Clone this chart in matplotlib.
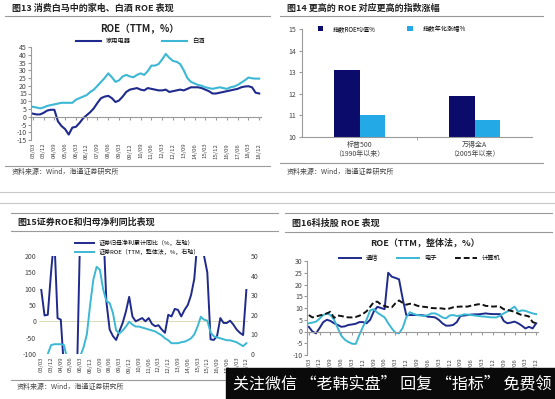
import numpy as np
import matplotlib
matplotlib.use('Agg')
import matplotlib.pyplot as plt
from matplotlib.lines import Line2D
from matplotlib.patches import Rectangle

plt.rcParams['font.family'] = ['Noto Sans CJK SC', 'DejaVu Sans']
plt.rcParams['axes.unicode_minus'] = False

W, H = 555, 399
DARK = '#1f2a8c'
LIGHT = '#3cb8d4'
BAR_DARK = '#0b0b6b'
BAR_LIGHT = '#22a9e6'
GRAY = '#9a9a9a'
TXT = '#444444'

# quarterly axis labels, every 3rd quarter (03/03 .. 18/12)
quarter_labels = ['03/03', '03/12', '04/09', '05/06', '06/03', '06/12', '07/09', '08/06',
                  '09/03', '09/12', '10/09', '11/06', '12/03', '12/12', '13/09', '14/06',
                  '15/03', '15/12', '16/09', '17/06', '18/03', '18/12']

# fig 13: ROE (TTM, %)
appliance_roe = [2, 1.5, 1.5, 2.5, 4, 4.5, 4.5, -3, -6, -8, -11.5, -7, -6.5, -4, -1, 1,
                 3, 5.5, 9, 12, 13, 13.5, 12, 9.5, 10.5, 13, 16, 17.5, 18, 18.5, 17.5, 17,
                 18.5, 18, 17.5, 17, 17, 17.5, 16, 16.5, 17, 17.5, 17, 18, 19, 19, 19, 18.5,
                 17.5, 16.5, 15, 15, 15.5, 16, 16.5, 17, 17.5, 18, 19, 19.5, 19.7, 19, 15.5, 15]
baijiu_roe = [6.4, 6, 5.4, 6, 7, 7.5, 8, 8.5, 9, 9, 9, 9, 11, 12, 13, 14,
              16, 17.5, 20, 22.5, 25, 28, 25.5, 22.5, 23.5, 26, 27, 26, 25.5, 27, 28, 27,
              29.5, 33, 33, 34, 37, 40.5, 38, 36, 35.5, 34, 30, 25, 22.5, 21.5, 20.5, 20,
              19, 18.5, 18, 18.5, 19, 18.5, 18, 19, 19.5, 20.5, 22, 23.5, 25.3, 24.8, 24.6, 24.6]

# fig 14
index_names = ['标普500\n（1990年以来）', '万得全A\n（2005年以来）']
index_roe_mean = [13.1, 11.9]
index_annual_return = [11.0, 10.8]

# fig 15
broker_profit_yoy = [96, 18, 20, 150, 260, 10, 5, -150, -150, -150, -150, -150, 300, 300, 300, 300,
                     300, 300, 300, 300, 60, -25, -45, -57, -30, -5, 30, 75, 15, 0, 5, 10,
                     0, 10, -8, -15, -12, -25, -35, 20, 15, 38, 35, 15, 35, 50, 80, 130,
                     250, 250, 200, 150, -55, -57, -45, 10, -5, -5, 2, -10, -25, -35, -42, 96]
broker_roe = [np.nan, np.nan, 0, 4.5, 5, 5, 5, 4.5, -3, np.nan, np.nan, np.nan, -1, 3.5, 10, 25,
              38, 44.5, 43, 33, 27, 26, 21, 12, 10.5, 12, 14, 16.5, 15, 14, 14, 13.5,
              13, 12.5, 12, 11.5, 10.5, 9.5, 8, 7, 5.5, 5.5, 5.5, 6, 6.3, 7, 8, 10,
              14, 19, 17.5, 17, 11, 9, 8.5, 8, 7.5, 7, 7, 6.5, 6, 5, 4, 5.5]

# fig 16
telecom_roe = [2, 0, -0.8, 1.5, 4, 5, 4.5, 3.5, 2.8, 2, 2.2, 2.8, 3, 3.3, 4, 4,
               3.5, 5, 8.5, 10.5, 10, 9.5, 25, 23.3, 22.8, 22.2, 14, 7, 7, 7, 7, 7,
               6.8, 6.3, 6.2, 6, 5, 3.5, 2.5, 2.5, 2.8, 4, 6.6, 6.8, 7, 7.2, 7.3, 7.3,
               7.5, 7.7, 7.5, 7.4, 7.4, 7.4, 4.5, 3.5, 3.8, 4.2, 3.5, 2.5, 1.3, 2, 1.3, 3.5]
electronics_roe = [3.5, 3.8, 4.2, 5.5, 7, 7.7, 7, 5, 1.5, -1.8, -3.5, -4.5, -5.2, -5.3, -1.5, 2,
                   5, 9, 9.5, 8, 7, 6, 3.5, 1.3, -0.5, -0.8, 1.5, 6, 8.2, 7.5, 7, 6.8,
                   6.6, 7, 7.7, 7.7, 7, 6, 5.6, 6.8, 7, 6.6, 6.8, 7.3, 7.2, 7, 6.8, 6.6,
                   6.4, 6.3, 6.1, 6, 6, 6.8, 7.7, 8.5, 9.5, 10.6, 8.4, 9, 8.8, 8.2, 7.7, 7.4]
computer_roe = [7, 6, 6.4, 6.8, 7.2, 7.7, 8.4, 5.8, 6.8, 6.6, 6.2, 6, 6, 6.2, 6.7, 7.5,
                8.6, 10.5, 12.5, 12.7, 11.5, 10.8, 10.4, 10.3, 12, 13.2, 12.2, 11.4, 11.8, 11.6, 11, 10.6,
                10.5, 10.3, 10, 9.9, 9.9, 9.8, 9.5, 9.8, 10.3, 10.5, 10.6, 10.6, 10.6, 11, 11.3, 11.6,
                11.5, 10.9, 10.8, 10.6, 10.7, 10.5, 9.5, 9.2, 8.8, 8.4, 7.6, 7, 6.8, 6.4, 4, 3.5]

q = np.arange(len(appliance_roe))
tick_idx = q[::3]

fig = plt.figure(figsize=(W / 100, H / 100), dpi=100)


def box(x0, y0, x1, y1):
    return [x0 / W, 1 - y1 / H, (x1 - x0) / W, (y1 - y0) / H]


def hline(y, x0, x1, color=GRAY, lw=0.8):
    fig.add_artist(Line2D([x0 / W, x1 / W], [1 - y / H, 1 - y / H], color=color, lw=lw))


def label(x, y, s, **kw):
    kw.setdefault('va', 'center')
    fig.text(x / W, 1 - y / H, s, **kw)


def date_labels(ax, size=4.3):
    sec = ax.secondary_xaxis('bottom')
    sec.set_xticks(tick_idx, quarter_labels)
    sec.tick_params(length=0, labelsize=size, rotation=90, pad=2, labelcolor=TXT)
    sec.spines['bottom'].set_visible(False)
    return sec


# ---------- frames / titles ----------
label(12, 8, '图13 消费白马中的家电、白酒 ROE 表现', fontsize=6.5, fontweight='bold', color='#222222')
hline(16, 5, 270)
hline(166, 5, 270)
label(12, 172, '资料来源：Wind，海通证券研究所', fontsize=5, color=TXT)

label(287, 8, '图14 更高的 ROE 对应更高的指数涨幅', fontsize=6.5, fontweight='bold', color='#222222')
hline(16, 280, 543)
hline(163, 280, 543)
label(287, 172, '资料来源：Wind，海通证券研究所', fontsize=5, color=TXT)

hline(192, 0, 555, color='#c8c8c8')
hline(203, 0, 555, color='#c8c8c8')

label(17, 222, '图15证券ROE和归母净利同比表现', fontsize=6.5, fontweight='bold', color='#222222')
hline(213, 11, 278)
hline(231, 11, 278)
hline(380, 11, 278)
label(17, 387, '资料来源：Wind，海通证券研究所', fontsize=5, color=TXT)

label(292, 223, '图16科技股 ROE 表现', fontsize=6.5, fontweight='bold', color='#222222')
hline(213, 285, 552)
hline(232, 285, 552)

# ---------- fig 13 ----------
ax1 = fig.add_axes(box(31, 47, 261, 140))
ax1.plot(q, appliance_roe, color=DARK, lw=1.5, label='家用电器')
ax1.plot(q, baijiu_roe, color=LIGHT, lw=1.5, label='白酒')
ax1.set_xlim(-0.5, 63.5)
ax1.set_ylim(-15, 45)
ax1.set_yticks(range(-15, 46, 5))
for s in ['top', 'right']:
    ax1.spines[s].set_visible(False)
ax1.spines['bottom'].set_position(('data', 0))
ax1.spines['bottom'].set_color(GRAY)
ax1.spines['left'].set_color(GRAY)
ax1.set_xticks(tick_idx)
ax1.tick_params(axis='x', labelbottom=False, length=2, color=GRAY)
ax1.tick_params(axis='y', labelsize=5, length=2, pad=1, color=GRAY, labelcolor=TXT)
date_labels(ax1)
ax1.legend(loc='center', bbox_to_anchor=(140 / W, 1 - 41 / H), bbox_transform=fig.transFigure,
           ncol=2, frameon=False, fontsize=4.5, handlelength=4, columnspacing=5, handletextpad=0.8)
label(140, 29, 'ROE（TTM，%）', fontsize=7, fontweight='bold', ha='center', color='#222222')

# ---------- fig 14 ----------
ax2 = fig.add_axes(box(302, 29, 532, 137))
xc = np.arange(len(index_names))
ax2.bar(xc - 0.1125, index_roe_mean, width=0.225, color=BAR_DARK, label='指数ROE均值%')
ax2.bar(xc + 0.1125, index_annual_return, width=0.225, color=BAR_LIGHT, label='指数年化涨幅%')
ax2.set_xlim(-0.5, 1.5)
ax2.set_ylim(10, 15)
for s in ['top', 'right']:
    ax2.spines[s].set_visible(False)
ax2.spines['bottom'].set_color(GRAY)
ax2.spines['left'].set_color(GRAY)
ax2.set_xticks(xc, index_names)
ax2.set_xticks([0.5], minor=True)
ax2.tick_params(axis='x', which='major', length=0, labelsize=5, pad=3, labelcolor=TXT)
ax2.tick_params(axis='x', which='minor', length=2, color=GRAY)
ax2.tick_params(axis='y', labelsize=5, length=2, pad=2, color=GRAY, labelcolor=TXT)
ax2.legend(loc='center', bbox_to_anchor=(392 / W, 1 - 29 / H), bbox_transform=fig.transFigure,
           ncol=2, frameon=False, fontsize=4.5, handlelength=0.9, handleheight=0.9,
           columnspacing=5, handletextpad=1.6)

# ---------- fig 15 ----------
ax3 = fig.add_axes(box(39, 256, 248, 354))
ax3.axhline(0, color='#d6d3a8', lw=0.6)
l1, = ax3.plot(q, broker_profit_yoy, color=DARK, lw=1.4, label='证券归母净利累计同比（%，左轴）')
ax3.set_xlim(-0.7, 63.5)
ax3.set_ylim(-100, 200)
ax3.set_yticks(range(-100, 201, 50))
ax3b = ax3.twinx()
l2, = ax3b.plot(q, broker_roe, color=LIGHT, lw=1.4, label='证券ROE（TTM，整体法，%，右轴）')
ax3b.set_ylim(0, 50)
ax3b.set_yticks(range(0, 51, 10))
for a in (ax3, ax3b):
    for s in a.spines.values():
        s.set_visible(False)
    a.tick_params(axis='y', labelsize=5, length=0, pad=2, labelcolor=TXT)
ax3.set_xticks([])
date_labels(ax3)
fig.legend(handles=[l1, l2], loc='upper left', bbox_to_anchor=(72 / W, 1 - 237 / H),
           frameon=False, fontsize=4.3, handlelength=3.2, handletextpad=0.8, labelspacing=0.35,
           borderpad=0)

# ---------- fig 16 ----------
ax4 = fig.add_axes(box(307, 261, 538, 355))
ax4.plot(q, telecom_roe, color=DARK, lw=1.4, label='通信')
ax4.plot(q, electronics_roe, color=LIGHT, lw=1.4, label='电子')
ax4.plot(q, computer_roe, color='#111111', lw=1.4, ls=(0, (3, 1.5)), label='计算机')
ax4.set_xlim(-0.5, 63.5)
ax4.set_ylim(-10, 30)
ax4.set_yticks(range(-10, 31, 5))
for s in ['top', 'right']:
    ax4.spines[s].set_visible(False)
ax4.spines['bottom'].set_position(('data', 0))
ax4.spines['bottom'].set_color(GRAY)
ax4.spines['left'].set_color(GRAY)
ax4.set_xticks(tick_idx)
ax4.tick_params(axis='x', labelbottom=False, length=2, color=GRAY)
ax4.tick_params(axis='y', labelsize=5, length=2, pad=1, color=GRAY, labelcolor=TXT)
date_labels(ax4)
ax4.legend(loc='center', bbox_to_anchor=(420 / W, 1 - 258 / H), bbox_transform=fig.transFigure,
           ncol=3, frameon=False, fontsize=4.5, handlelength=3.5, columnspacing=3, handletextpad=0.8)
label(425, 243, 'ROE（TTM，整体法，%）', fontsize=6.5, fontweight='bold', ha='center', color='#222222')

# ---------- watermark banner ----------
fig.add_artist(Rectangle((226 / W, 0), (W - 226) / W, 31 / H, transform=fig.transFigure,
                         color='#0a0a0a', zorder=10))
label(233, 384, '关注微信 “老韩实盘” 回复 “指标” 免费领', fontsize=11.5, color='white', zorder=11)

fig.savefig('out.png', dpi=100)
